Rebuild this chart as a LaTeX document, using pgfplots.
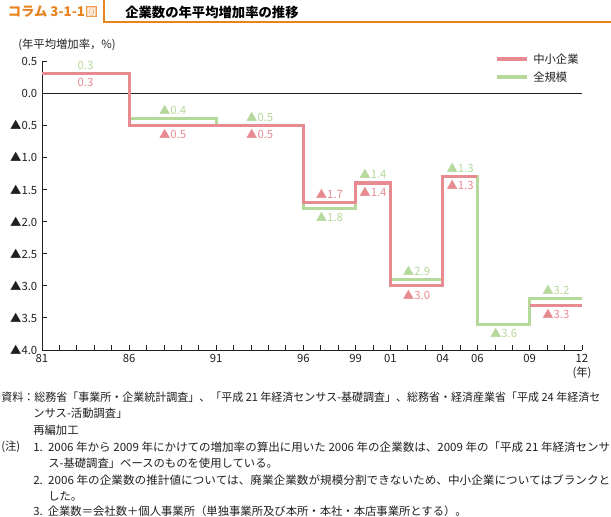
\documentclass[border=0pt]{standalone}
\usepackage{graphicx}
\usepackage{pgfplots}
\pgfplotsset{compat=1.18}
\usepackage{fontspec}
\setmainfont{Noto Sans CJK JP}
\definecolor{pk}{HTML}{E88B90}
\definecolor{gr}{HTML}{B5D99B}
\definecolor{og}{HTML}{E8831F}
\definecolor{tx}{HTML}{231F20}
\newcommand{\lab}{\fontsize{8.5}{10}\selectfont}
\begin{document}
\begin{tikzpicture}
\fill[white] (0,0) rectangle (458.25pt,-387.75pt);
\begin{axis}[
  at={(31.5pt,-262.5pt)}, anchor=south west,
  scale only axis, width=405pt, height=216.75pt,
  xmin=1981, xmax=2012, ymin=-4, ymax=0.5,
  axis lines*=left,
  axis line style={tx, line width=0.7pt},
  xtick={1981,1986,1991,1996,1999,2001,2004,2006,2009,2012},
  xticklabels={81,86,91,96,99,01,04,06,09,12},
  minor xtick={1982,1983,1984,1985,1987,1988,1989,1990,1992,1993,1994,1995,1997,1998,2000,2002,2003,2005,2007,2008,2010,2011},
  ytick={0.5,0,-0.5,-1,-1.5,-2,-2.5,-3,-3.5,-4},
  yticklabels={0.5,0.0,▲0.5,▲1.0,▲1.5,▲2.0,▲2.5,▲3.0,▲3.5,▲4.0},
  tick align=inside,
  major tick length=4pt, minor tick length=4pt,
  tick style={tx, line width=0.6pt},
  every tick label/.append style={font=\lab, text=tx},
  clip=false,
]
\addplot[tx, line width=0.7pt] coordinates {(1981,0) (2012,0)};
\addplot[gr, line width=2.3pt, const plot, line join=miter] coordinates {
 (1981,0.3) (1986,-0.4) (1991,-0.5) (1996,-1.8) (1999,-1.4) (2001,-2.9) (2004,-1.3) (2006,-3.6) (2009,-3.2) (2012,-3.2)};
\addplot[pk, line width=2.3pt, const plot, line join=miter] coordinates {
 (1981,0.3) (1986,-0.5) (1991,-0.5) (1996,-1.7) (1999,-1.4) (2001,-3.0) (2004,-1.3) (2006,-1.3)};
\addplot[pk, line width=2.3pt, const plot, line join=miter] coordinates {
 (2009,-3.3) (2012,-3.3)};
% labels
\def\up{6.5pt}
\def\dn{-6.5pt}
\begin{scope}[every node/.style={font=\lab, inner sep=0pt}]
\node[gr, yshift=\up] at (axis cs:1983.5,0.3) {0.3};
\node[pk, yshift=\dn] at (axis cs:1983.5,0.3) {0.3};
\node[gr, yshift=\up] at (axis cs:1988.5,-0.4) {▲0.4};
\node[pk, yshift=\dn] at (axis cs:1988.5,-0.5) {▲0.5};
\node[gr, yshift=\up] at (axis cs:1993.5,-0.5) {▲0.5};
\node[pk, yshift=\dn] at (axis cs:1993.5,-0.5) {▲0.5};
\node[pk, yshift=\up] at (axis cs:1997.5,-1.7) {▲1.7};
\node[gr, yshift=\dn] at (axis cs:1997.5,-1.8) {▲1.8};
\node[gr, yshift=\up] at (axis cs:2000,-1.4) {▲1.4};
\node[pk, yshift=\dn] at (axis cs:2000,-1.4) {▲1.4};
\node[gr, yshift=\up] at (axis cs:2002.5,-2.9) {▲2.9};
\node[pk, yshift=\dn] at (axis cs:2002.5,-3.0) {▲3.0};
\node[gr, yshift=\up] at (axis cs:2005,-1.3) {▲1.3};
\node[pk, yshift=\dn] at (axis cs:2005,-1.3) {▲1.3};
\node[gr, yshift=\dn] at (axis cs:2007.5,-3.6) {▲3.6};
\node[gr, yshift=\up] at (axis cs:2010.5,-3.2) {▲3.2};
\node[pk, yshift=\dn] at (axis cs:2010.5,-3.3) {▲3.3};
\end{scope}
\end{axis}
\begin{scope}[x=0.75pt,y=-0.75pt]
% title tab
\draw[og, line width=0.8pt] (104,0) -- (104,22) -- (611,22);
\node[anchor=west, inner sep=0pt, text=og, font=\fontsize{10}{12}\selectfont\bfseries] at (7.5,12) {コラム 3-1-1};
\fill[og!80] (86,6.5) rectangle (97,17.5);
\node[inner sep=0pt, text=white, font=\fontsize{7}{8}\selectfont\bfseries] at (91.5,12) {図};
\node[anchor=west, inner sep=0pt, text=black, font=\fontsize{10}{12}\selectfont\bfseries] at (125,12) {企業数の年平均増加率の推移};
% unit label
\node[anchor=west, inner sep=0pt, text=tx, font=\lab] at (18,45) {(年平均増加率，\%)};
\node[inner sep=0pt, text=tx, font=\lab] at (582,373) {(年)};
% legend
\draw[pk, line width=2.3pt] (497,59) -- (527,59);
\draw[gr, line width=2.3pt] (497,77) -- (527,77);
\node[anchor=west, inner sep=0pt, text=tx, font=\lab] at (533,59) {中小企業};
\node[anchor=west, inner sep=0pt, text=tx, font=\lab] at (533,77) {全規模};
% notes
\begin{scope}[every node/.style={anchor=west, inner sep=0pt, text=tx, font=\lab}]
\node at (1,397) {\resizebox{449.25pt}{\height}{資料：総務省「事業所・企業統計調査」、「平成 21 年経済センサス-基礎調査」、総務省・経済産業省「平成 24 年経済セ}};
\node at (33,413) {ンサス-活動調査」};
\node at (33,430) {再編加工};
\node at (1,447) {(注)};
\node at (33,447) {\resizebox{432.75pt}{\height}{1.\ \ 2006 年から 2009 年にかけての増加率の算出に用いた 2006 年の企業数は、2009 年の「平成 21 年経済センサ}};
\node at (48,463) {ス-基礎調査」ベースのものを使用している。};
\node at (33,480) {\resizebox{432.75pt}{\height}{2.\ \ 2006 年の企業数の推計値については、廃業企業数が規模分割できないため、中小企業についてはブランクと}};
\node at (48,496) {した。};
\node at (33,511) {3.\ \ 企業数＝会社数＋個人事業所（単独事業所及び本所・本社・本店事業所とする）。};
\end{scope}
\pgfresetboundingbox
\path[use as bounding box] (0,0) rectangle (611,517);
\end{scope}
\end{tikzpicture}
\end{document}
